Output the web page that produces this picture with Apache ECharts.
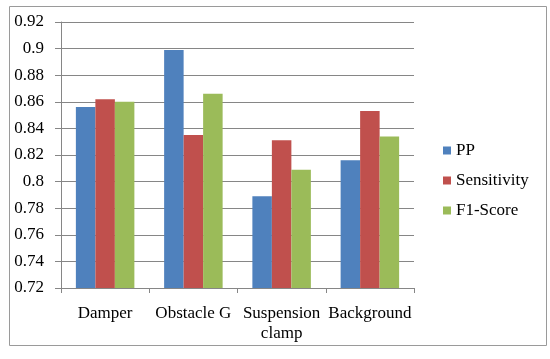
<!DOCTYPE html>
<html><head><meta charset="utf-8">
<script src="https://cdn.jsdelivr.net/npm/echarts@6/dist/echarts.min.js"></script>
<style>html,body{margin:0;padding:0;background:#fff}#c{width:550px;height:359px}</style>
</head><body><div id="c"></div>
<script>
const categories = ['Damper', 'Obstacle G', 'Suspension\nclamp', 'Background'];
const ppValues = [0.856, 0.899, 0.789, 0.816];
const sensitivityValues = [0.862, 0.835, 0.831, 0.853];
const f1Values = [0.860, 0.866, 0.809, 0.834];
const seriesNames = ['PP', 'Sensitivity', 'F1-Score'];
const colors = ['#4F81BD', '#C0504D', '#9BBB59'];
const font = 'Liberation Serif';

const chart = echarts.init(document.getElementById('c'));
const mk = (name, data, color) => ({
  name, type: 'bar', data, barWidth: 19.5, barGap: '0%',
  itemStyle: { color }
});
chart.setOption({
  animation: false,
  graphic: [{
    type: 'rect', left: 7, top: 4,
    shape: { width: 537, height: 339 },
    style: { fill: 'none', stroke: '#9a9a9a', lineWidth: 1 }
  }],
  grid: { left: 61, right: 136, top: 22, bottom: 71 },
  legend: {
    orient: 'vertical', left: 438, top: 137, itemGap: 13,
    itemWidth: 8, itemHeight: 8, icon: 'rect',
    textStyle: { fontFamily: font, fontSize: 17, color: '#000' },
    data: seriesNames
  },
  xAxis: {
    type: 'category', data: categories,
    axisLine: { lineStyle: { color: '#868686' } },
    axisTick: { show: true, length: 5, lineStyle: { color: '#868686' } },
    axisLabel: { fontFamily: font, fontSize: 17, color: '#000', margin: 16, lineHeight: 20, interval: 0 }
  },
  yAxis: {
    type: 'value', min: 0.72, max: 0.92, interval: 0.02,
    axisLine: { show: true, lineStyle: { color: '#868686' } },
    axisTick: { show: true, length: 6, lineStyle: { color: '#868686' } },
    splitLine: { lineStyle: { color: '#868686' } },
    axisLabel: { fontFamily: font, fontSize: 17, color: '#000', margin: 17,
      formatter: v => String(parseFloat(v.toFixed(2))) }
  },
  series: [
    mk(seriesNames[0], ppValues, colors[0]),
    mk(seriesNames[1], sensitivityValues, colors[1]),
    mk(seriesNames[2], f1Values, colors[2])
  ]
});
</script></body></html>
